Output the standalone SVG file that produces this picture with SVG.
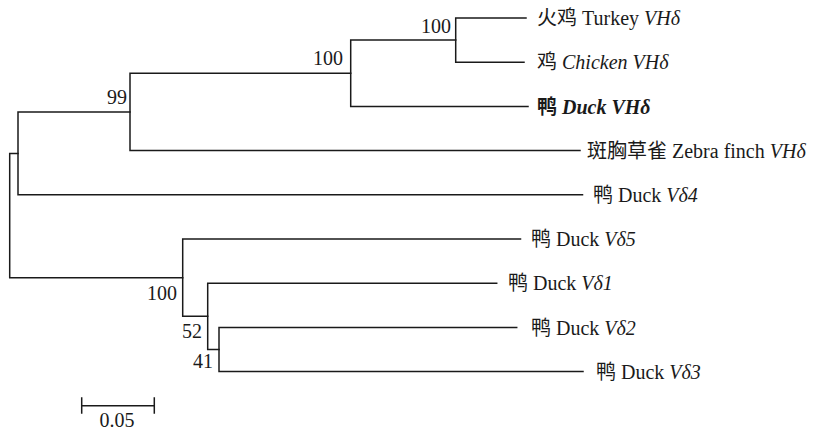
<svg xmlns="http://www.w3.org/2000/svg" width="817" height="431" viewBox="0 0 817 431">
<style>
  .br { fill: none; stroke: #1a1a1a; stroke-width: 1.5; stroke-linecap: square; }
  .lbl { font-size: 20px; fill: #1a1a1a; }
  .bs { font-size: 20px; fill: #1a1a1a; text-anchor: end; }
  .it { font-style: italic; }
  .bd { font-weight: bold; }
</style>
<rect width="817" height="431" fill="#ffffff"/>
<g id="connectors">
  <path class="br" d="M18,153.4 H9.7 V277.7 H182.7"/>
  <path class="br" d="M130,111.9 H18 V194.8 H582.5"/>
  <path class="br" d="M350.7,73.2 H130 V150.6 H580"/>
  <path class="br" d="M455.7,40.1 H350.7 V106.4 H528"/>
  <path class="br" d="M526,18 H455.7 V62.2 H524"/>
  <path class="br" d="M520.5,239 H182.7 V316.3 H207.7"/>
  <path class="br" d="M496.7,283.2 H207.7 V349.5 H219"/>
  <path class="br" d="M516.7,327.4 H219 V371.6 H583"/>
</g>
<g id="bootstrap" font-family="Liberation Serif, serif">
  <text class="bs" x="451" y="33">100</text>
  <text class="bs" x="343" y="65">100</text>
  <text class="bs" x="127" y="104">99</text>
  <text class="bs" x="177" y="300">100</text>
  <text class="bs" x="202" y="338">52</text>
  <text class="bs" x="213" y="368">41</text>
</g>
<g id="leaves" font-family="Liberation Serif, Noto Sans CJK SC, serif">
<g id="leaf-turkey"><text class="lbl" x="537" y="25">火鸡 Turkey <tspan class="it">VHδ</tspan></text></g>
<g id="leaf-chicken"><text class="lbl" x="537" y="69">鸡 <tspan class="it">Chicken VHδ</tspan></text></g>
<g id="leaf-duck-vh"><text class="lbl bd" x="537" y="113.5">鸭 <tspan class="it">Duck VHδ</tspan></text></g>
<g id="leaf-zebra"><text class="lbl" x="587" y="157.5">斑胸草雀 Zebra finch <tspan class="it">VHδ</tspan></text></g>
<g id="leaf-vd4"><text class="lbl" x="593" y="202">鸭 Duck <tspan class="it">Vδ4</tspan></text></g>
<g id="leaf-vd5"><text class="lbl" x="531" y="246">鸭 Duck <tspan class="it">Vδ5</tspan></text></g>
<g id="leaf-vd1"><text class="lbl" x="508" y="290">鸭 Duck <tspan class="it">Vδ1</tspan></text></g>
<g id="leaf-vd2"><text class="lbl" x="531" y="334.5">鸭 Duck <tspan class="it">Vδ2</tspan></text></g>
<g id="leaf-vd3"><text class="lbl" x="596" y="378.5">鸭 Duck <tspan class="it">Vδ3</tspan></text></g>
</g>
<g id="scale-bar">
  <path class="br" d="M81.7,405.7 H154.3 M81.7,398 V413 M154.3,398 V413"/>
  <text class="lbl" x="117" y="427" text-anchor="middle" font-family="Liberation Serif, serif">0.05</text>
</g>
</svg>
